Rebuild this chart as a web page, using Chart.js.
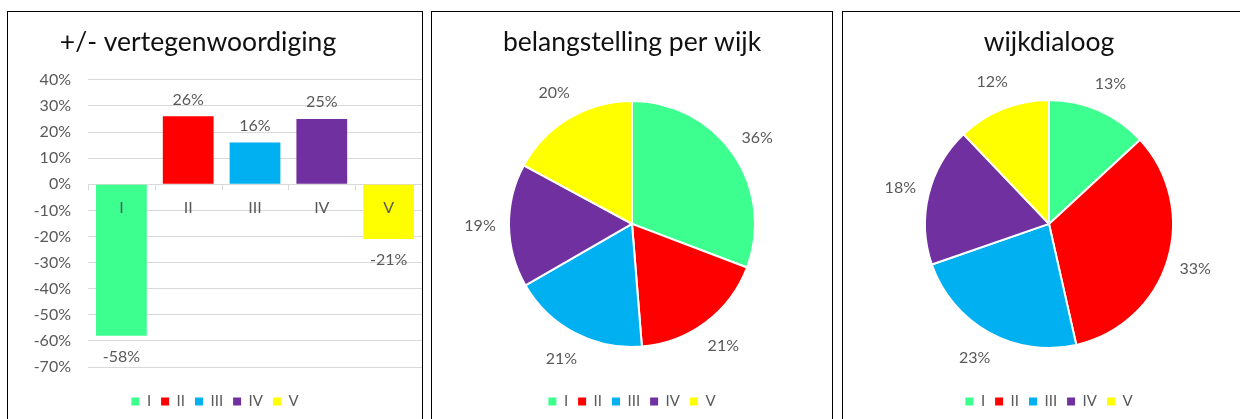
<!DOCTYPE html>
<html>
<head>
<meta charset="utf-8">
<script src="https://cdn.jsdelivr.net/npm/chart.js@4/dist/chart.umd.min.js"></script>
<style>
  body { margin: 0; background: #fff; width: 1240px; height: 419px; overflow: hidden; position: relative; }
  .panel { position: absolute; top: 11px; height: 430px; border: 1px solid #000; box-sizing: border-box; }
  #p1 { left: 7px; width: 416px; }
  #p2 { left: 431px; width: 402px; }
  #p3 { left: 842px; width: 414px; }
  .panel > div { position: relative; height: 407px; }
</style>
</head>
<body>
<div class="panel" id="p1"><div><canvas id="bars"></canvas></div></div>
<div class="panel" id="p2"><div><canvas id="interest"></canvas></div></div>
<div class="panel" id="p3"><div><canvas id="dialogue"></canvas></div></div>

<script>
const categories = ["I", "II", "III", "IV", "V"];
const colors = ["#3CFF8F", "#FF0000", "#00B0F0", "#7030A0", "#FFFF00"];

// +/- vertegenwoordiging (percent)
const representation = [-58, 26, 16, 25, -21];
// belangstelling per wijk (percent)
const interest = [36, 21, 21, 19, 20];
// wijkdialoog (percent)
const dialogue = [13, 33, 23, 18, 12];

const yMin = -70;
const yMax = 40;
const yStep = 10;

const FONT = "Lato";
const GRAY = "#595959";

const legendOptions = {
  position: "bottom",
  labels: {
    boxWidth: 8,
    boxHeight: 8,
    padding: 10,
    color: GRAY,
    font: { family: FONT, size: 15 },
    generateLabels: () =>
      categories.map((c, i) => ({
        text: c,
        fillStyle: colors[i],
        strokeStyle: colors[i],
        lineWidth: 0,
        fontColor: GRAY,
        hidden: false,
        index: i,
      })),
  },
};

const titleOptions = (text, bottom) => ({
  display: true,
  text,
  color: "#111",
  font: { family: FONT, size: 26.5, weight: "normal" },
  padding: { top: 15, bottom },
});

// value labels, category labels on the zero line and small axis ticks
const barExtras = {
  id: "barExtras",
  afterDatasetsDraw(chart) {
    const { ctx, scales: { x, y } } = chart;
    const zero = y.getPixelForValue(0);
    ctx.save();
    ctx.strokeStyle = "#d9d9d9";
    ctx.lineWidth = 1;
    for (let i = 0; i <= categories.length; i++) {
      const px = Math.round(x.getPixelForValue(i - 0.5)) + 0.5;
      ctx.beginPath();
      ctx.moveTo(px, zero);
      ctx.lineTo(px, zero + 6);
      ctx.stroke();
    }
    ctx.font = `16px ${FONT}`;
    ctx.fillStyle = GRAY;
    ctx.textAlign = "center";
    ctx.textBaseline = "middle";
    chart.getDatasetMeta(0).data.forEach((bar, i) => {
      const v = representation[i];
      ctx.fillText(v + "%", bar.x, v >= 0 ? bar.y - 17 : bar.y + 21);
      ctx.fillText(categories[i], bar.x, zero + 24);
    });
    ctx.restore();
  },
};

// title of the first chart sits a bit left of the panel centre
const shiftTitle = {
  id: "shiftTitle",
  afterLayout(chart) {
    chart.titleBlock.right -= 34;
  },
};

const pieLabels = {
  id: "pieLabels",
  afterDatasetsDraw(chart) {
    const { ctx } = chart;
    const values = chart.data.datasets[0].data;
    ctx.save();
    ctx.font = `16px ${FONT}`;
    ctx.fillStyle = GRAY;
    ctx.textAlign = "center";
    ctx.textBaseline = "middle";
    chart.getDatasetMeta(0).data.forEach((arc, i) => {
      const mid = (arc.startAngle + arc.endAngle) / 2;
      const r = arc.outerRadius + 29;
      ctx.fillText(values[i] + "%", arc.x + Math.cos(mid) * r, arc.y + Math.sin(mid) * r);
    });
    ctx.restore();
  },
};

new Chart(document.getElementById("bars"), {
  type: "bar",
  data: {
    labels: categories,
    datasets: [{
      data: representation,
      backgroundColor: colors,
      barPercentage: 0.76,
      categoryPercentage: 1,
    }],
  },
  options: {
    responsive: true,
    maintainAspectRatio: false,
    animation: false,
    layout: { padding: 0 },
    plugins: {
      title: titleOptions("+/- vertegenwoordiging", 21),
      legend: legendOptions,
      tooltip: { enabled: false },
    },
    scales: {
      x: {
        ticks: { display: false },
        grid: { display: false, drawTicks: false },
        border: { display: false },
        afterFit: (s) => { s.height = 17; },
      },
      y: {
        min: yMin,
        max: yMax,
        ticks: {
          stepSize: yStep,
          padding: 17,
          color: GRAY,
          font: { family: FONT, size: 16 },
          callback: (v) => v + "%",
        },
        grid: { color: "#d9d9d9", drawTicks: false },
        border: { display: false },
        afterFit: (s) => { s.width = 80; },
      },
    },
  },
  plugins: [barExtras, shiftTitle],
});

function pieChart(id, title, values, radius) {
  return new Chart(document.getElementById(id), {
    type: "pie",
    data: {
      labels: categories,
      datasets: [{
        data: values,
        backgroundColor: colors,
        borderColor: "#fff",
        borderWidth: 2,
        radius,
      }],
    },
    options: {
      responsive: true,
      maintainAspectRatio: false,
      animation: false,
      layout: { padding: 0 },
      plugins: {
        title: titleOptions(title, 5),
        legend: legendOptions,
        tooltip: { enabled: false },
      },
    },
    plugins: [pieLabels],
  });
}

pieChart("interest", "belangstelling per wijk", interest, 123);
pieChart("dialogue", "wijkdialoog", dialogue, 124);
</script>
</body>
</html>
